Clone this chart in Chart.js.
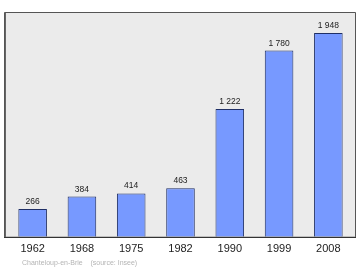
<!DOCTYPE html>
<html>
<head>
<meta charset="utf-8">
<script src="https://cdn.jsdelivr.net/npm/chart.js@4/dist/chart.umd.min.js"></script>
<style>
html,body{margin:0;padding:0;background:#fff;}
#wrap{width:360px;height:269px;position:relative;}
</style>
</head>
<body>
<div id="wrap"><canvas id="c" width="360" height="269"></canvas></div>
<script>
const categories = ["1962", "1968", "1975", "1982", "1990", "1999", "2008"];
const population = [266, 384, 414, 463, 1222, 1780, 1948];
const valueLabels = ["266", "384", "414", "463", "1 222", "1 780", "1 948"];
const footerText = "Chanteloup-en-Brie    (source: Insee)";

const framePlugin = {
  id: 'frame',
  beforeDraw(chart) {
    const ctx = chart.ctx;
    const a = chart.chartArea;
    ctx.save();
    ctx.fillStyle = '#ebebeb';
    ctx.fillRect(4, a.top, 352, a.bottom - a.top);
    ctx.restore();
  },
  afterDraw(chart) {
    const ctx = chart.ctx;
    const a = chart.chartArea;
    ctx.save();
    ctx.strokeStyle = '#555';
    ctx.lineWidth = 1;
    ctx.beginPath();
    ctx.moveTo(4.5, a.bottom);
    ctx.lineTo(4.5, a.top + 0.5);
    ctx.lineTo(355.5, a.top + 0.5);
    ctx.lineTo(355.5, a.bottom);
    ctx.stroke();
    ctx.strokeStyle = '#666';
    ctx.beginPath();
    ctx.moveTo(5.5, a.bottom);
    ctx.lineTo(5.5, a.top + 1);
    ctx.stroke();
    ctx.strokeStyle = '#000';
    ctx.beginPath();
    ctx.moveTo(4, a.bottom + 0.5);
    ctx.lineTo(356, a.bottom + 0.5);
    ctx.stroke();
    // value labels
    ctx.fillStyle = '#222';
    ctx.font = '8.5px "Liberation Sans", Arial, sans-serif';
    ctx.textAlign = 'center';
    ctx.textBaseline = 'alphabetic';
    const meta = chart.getDatasetMeta(0);
    meta.data.forEach((el, i) => {
      ctx.fillText(valueLabels[i], el.x, el.y - 5);
    });
    // footer
    ctx.fillStyle = '#b4b4b4';
    ctx.font = '7px "Liberation Sans", Arial, sans-serif';
    ctx.textAlign = 'left';
    ctx.fillText(footerText, 22, 265);
    ctx.restore();
  }
};

new Chart(document.getElementById('c'), {
  type: 'bar',
  data: {
    labels: categories,
    datasets: [{
      data: population,
      backgroundColor: '#7799ff',
      borderColor: '#1f2f66',
      borderWidth: 1,
      barPercentage: 0.58,
      categoryPercentage: 1.0
    }]
  },
  options: {
    responsive: false,
    animation: false,
    devicePixelRatio: 1,
    layout: { padding: { left: 8, right: 7, top: 12, bottom: 7 } },
    plugins: { legend: { display: false }, tooltip: { enabled: false } },
    scales: {
      x: {
        grid: { display: false, drawTicks: false },
        border: { display: false },
        ticks: {
          color: '#222',
          font: { family: '"Liberation Sans", Arial, sans-serif', size: 11 },
          padding: 6,
          maxRotation: 0
        }
      },
      y: {
        display: false,
        min: 0,
        max: 2148
      }
    }
  },
  plugins: [framePlugin]
});
</script>
</body>
</html>
